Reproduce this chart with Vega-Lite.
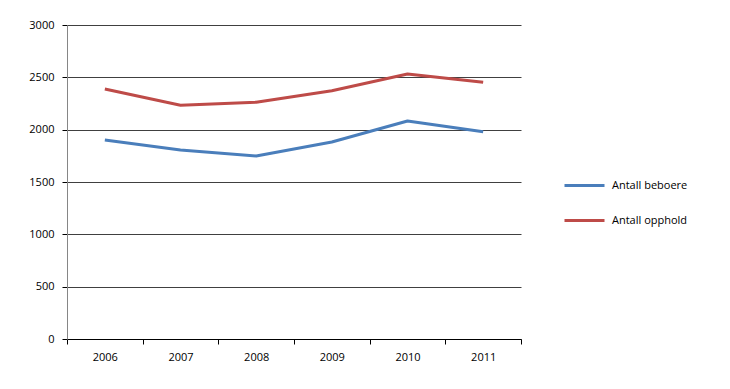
{
  "$schema": "https://vega.github.io/schema/vega-lite/v6.json",
  "width": 454,
  "height": 314,
  "autosize": {"type": "none"},
  "padding": {"left": 67, "top": 25, "right": 209, "bottom": 50},
  "background": "white",
  "config": {
    "view": {"stroke": null},
    "font": "Open Sans",
    "axis": {"labelFont": "Open Sans", "labelFontSize": 11, "labelColor": "#000000"}
  },
  "data": {
    "values": [
      {"year": "2006", "series": "Antall beboere", "value": 1901},
      {"year": "2007", "series": "Antall beboere", "value": 1806},
      {"year": "2008", "series": "Antall beboere", "value": 1749},
      {"year": "2009", "series": "Antall beboere", "value": 1882},
      {"year": "2010", "series": "Antall beboere", "value": 2083},
      {"year": "2011", "series": "Antall beboere", "value": 1981},
      {"year": "2006", "series": "Antall opphold", "value": 2388},
      {"year": "2007", "series": "Antall opphold", "value": 2234},
      {"year": "2008", "series": "Antall opphold", "value": 2262},
      {"year": "2009", "series": "Antall opphold", "value": 2372},
      {"year": "2010", "series": "Antall opphold", "value": 2532},
      {"year": "2011", "series": "Antall opphold", "value": 2452}
    ]
  },
  "mark": {"type": "line", "strokeWidth": 3, "interpolate": "linear", "strokeJoin": "round"},
  "encoding": {
    "x": {
      "field": "year",
      "type": "ordinal",
      "scale": {"type": "band", "paddingInner": 0, "paddingOuter": 0},
      "axis": {
        "title": null,
        "labelAngle": 0,
        "tickBand": "extent",
        "domainColor": "#000000",
        "tickColor": "#000000",
        "tickSize": 5,
        "labelPadding": 7,
        "grid": false
      }
    },
    "y": {
      "field": "value",
      "type": "quantitative",
      "scale": {"domain": [0, 3000], "nice": false},
      "axis": {
        "title": null,
        "values": [0, 500, 1000, 1500, 2000, 2500, 3000],
        "format": "d",
        "grid": true,
        "gridColor": "#000000",
        "gridOpacity": 0.75,
        "domainColor": "#868686",
        "tickColor": "#000000",
        "tickSize": 5,
        "labelPadding": 8
      }
    },
    "color": {
      "field": "series",
      "type": "nominal",
      "scale": {"domain": ["Antall beboere", "Antall opphold"], "range": ["#4a7ebb", "#be4b48"]},
      "legend": {
        "title": null,
        "orient": "none",
        "legendX": 496,
        "legendY": 139,
        "symbolType": "stroke",
        "symbolSize": 1600,
        "symbolStrokeWidth": 3,
        "rowPadding": 7,
        "labelFontSize": 11,
        "labelFont": "Open Sans",
        "labelColor": "#000000",
        "labelOffset": 6
      }
    }
  }
}
